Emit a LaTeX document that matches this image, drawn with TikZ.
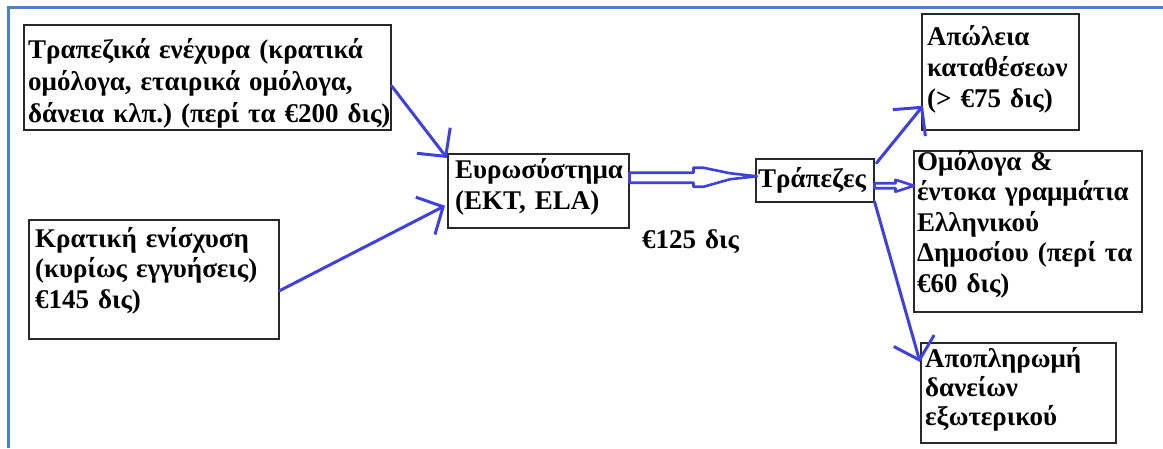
\documentclass[tikz,border=0pt]{standalone}
\usepackage{fontspec}
\setmainfont{Liberation Serif}
\usetikzlibrary{arrows.meta,calc}
\definecolor{arrowblue}{RGB}{64,64,222}
\definecolor{frameblue}{RGB}{79,129,189}
\definecolor{boxline}{RGB}{40,40,40}
\frenchspacing
\begin{document}
\begin{tikzpicture}[x=1pt,y=-1pt,
  box/.style={draw=boxline, line width=1.5pt, inner sep=0pt, anchor=north west},
  txt/.style={font=\bfseries\fontsize{27}{31}\selectfont, text width=400pt, align=left, inner sep=0pt, anchor=base west},
  conn/.style={draw=arrowblue, line width=3pt, line cap=round, -{Straight Barb[length=20pt,width=42pt]}},
  dbl/.style={draw=arrowblue, line width=2.6pt, fill=white, line join=round},
  frameline/.style={draw=frameblue, line width=3pt}]
\useasboundingbox (0,0) rectangle (1163,448);
\draw[frameline] (8.5,448) -- (8.5,7.5) -- (1163,7.5);

\node[box, minimum width=367pt, minimum height=105pt] (tl) at (23,24) {};
\node[txt, font=\bfseries\fontsize{27}{32}\selectfont] (tlt) at (28,58) {Τραπεζικά ενέχυρα (κρατικά\\ομόλογα, εταιρικά ομόλογα,\\δάνεια κλπ.) (περί τα €200 δις)};

\node[box, minimum width=250pt, minimum height=119pt] (kr) at (28,219) {};
\node[txt, font=\bfseries\fontsize{27}{30.5}\selectfont] (krt) at (35,247) {Κρατική ενίσχυση\\(κυρίως εγγυήσεις)\\€145 δις)};

\node[box, minimum width=181pt, minimum height=74pt] (eu) at (447,153) {};
\node[txt] (eut) at (455,178) {Ευρωσύστημα\\(ΕΚΤ, ELA)};

\node[box, minimum width=118pt, minimum height=43pt] (tr) at (755,158) {};
\node[txt] (trt) at (758,187) {Τράπεζες};

\node[box, minimum width=157pt, minimum height=116pt] (ap) at (921,13) {};
\node[txt] (apt) at (927,45) {Απώλεια\\καταθέσεων\\(> €75 δις)};

\node[box, minimum width=228pt, minimum height=161pt] (om) at (913,150) {};
\node[txt, font=\bfseries\fontsize{27}{30.5}\selectfont] (omt) at (917,170) {Ομόλογα \&\\έντοκα γραμμάτια\\Ελληνικού\\Δημοσίου (περί τα\\€60 δις)};

\node[box, minimum width=195pt, minimum height=100pt] (dn) at (920,342) {};
\node[txt, font=\bfseries\fontsize{27}{29}\selectfont] (dnt) at (925,367) {Αποπληρωμή\\δανείων\\εξωτερικού};

\node[txt] (lbl) at (642,248) {€125 δις};

% connectors
\draw[conn] ([yshift=-8.5pt]tl.east) -- ([yshift=-5pt]eu.north west);
\draw[conn] ([yshift=-11.5pt]kr.east) -- ([xshift=-2pt,yshift=-15pt]eu.west);
\draw[conn] ([xshift=2pt,yshift=-5pt]tr.north east) -- ([xshift=2pt,yshift=-34pt]ap.west);
\draw[conn] ([yshift=1pt]tr.south east) -- ([yshift=-20pt]dn.north west);

% big double-line arrow Eurosystem -> Banks
\coordinate (s1) at ([yshift=13pt]eu.east);
\coordinate (t1) at ([xshift=2pt,yshift=4pt]tr.west);
\draw[dbl] ($(s1)+(0,-5)$) -- ($(s1)+(64,-5)$) -- ($(s1)+(64,-10)$) -- ($(s1)+(74,-10)$)
  -- ($(t1)+(-27,-3)$) -- (t1) -- ($(t1)+(-27,3)$) -- ($(s1)+(74,9)$) -- ($(s1)+(64,9)$)
  -- ($(s1)+(64,5)$) -- ($(s1)+(0,5)$) -- cycle;

% small double-line arrow Banks -> Bonds
\coordinate (s2) at ([yshift=-5.5pt]tr.east);
\coordinate (t2) at ([xshift=1pt,yshift=45.5pt]om.west);
\draw[dbl] ($(s2)+(0,-2.5)$) -- ($(s2)+(21,-2.5)$) -- ($(s2)+(21,-6)$) -- (t2)
  -- ($(s2)+(21,6)$) -- ($(s2)+(21,2.5)$) -- ($(s2)+(0,2.5)$) -- cycle;
\end{tikzpicture}
\end{document}
